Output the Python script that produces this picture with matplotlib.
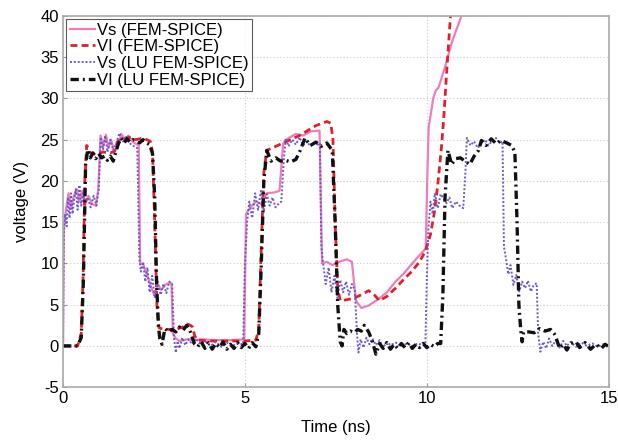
## Transient voltages, FEM-SPICE vs LU FEM-SPICE
import matplotlib as mpl
mpl.use('Agg')
import matplotlib.pyplot as plt

# Vs (FEM-SPICE), pink solid
vs_fem_t = [0, 0.02, 0.08, 0.15, 0.22, 0.3, 0.38, 0.45, 0.52, 0.6, 0.7, 0.8, 0.9, 0.97,
            1.03, 1.1, 1.18, 1.25, 1.32, 1.4, 1.5, 1.6, 1.7, 1.8, 1.9, 2.0, 2.08, 2.12,
            2.2, 2.3, 2.4, 2.5, 2.6, 2.7, 2.8, 2.9, 2.98, 3.02, 3.1, 3.2, 3.4, 3.6, 3.8,
            4.2, 4.6, 4.98, 5.03, 5.15, 5.3, 5.45, 5.6, 5.8, 5.95, 6.05, 6.2, 6.4, 6.6,
            6.8, 7.05, 7.12, 7.25, 7.4, 7.6, 7.8, 7.94, 8.05, 8.2, 8.4, 8.68, 8.9, 9.14,
            9.35, 9.58, 9.8, 9.97, 10.01, 10.05, 10.18, 10.25, 10.32, 10.5, 10.68, 10.95]
vs_fem_v = [0, 14.3, 16.5, 18.5, 16.8, 18.2, 19, 17.5, 18.8, 17, 18.2, 17.2, 17, 19,
            25.5, 24.2, 25.6, 24, 25, 23.7, 24, 25.7, 25, 25.5, 24.8, 24.5, 24.3, 10,
            9.9, 8.7, 7.4, 6.2, 7.4, 6.8, 7.4, 7.6, 7.6, 1.5, 0.9, 0.6, 0.8, 0.7, 0.8,
            0.7, 0.7, 0.8, 16, 16.8, 17.5, 17.2, 18.5, 18.6, 18.8, 24.5, 25.2, 25.7, 25.5,
            26, 26.1, 10, 10.2, 9.8, 10.2, 10.5, 10.2, 5.5, 4.6, 4.9, 5.7, 6.5, 7.8,
            8.7, 9.9, 11, 11.8, 20, 26.5, 30.1, 31, 31.3, 33.8, 36.7, 40]

# VI (FEM-SPICE), red dashed
vi_fem_t = [0, 0.4, 0.5, 0.55, 0.6, 0.65, 0.75, 0.9, 1.1, 1.3, 1.42, 1.5, 1.6, 1.8, 2.0,
            2.2, 2.4, 2.46, 2.52, 2.58, 2.64, 2.7, 2.9, 3.1, 3.3, 3.4, 3.5, 3.56, 3.62,
            3.7, 4.0, 4.5, 5.0, 5.3, 5.38, 5.45, 5.52, 5.6, 5.8, 6.0, 6.5, 6.95, 7.25,
            7.36, 7.42, 7.48, 7.55, 7.62, 7.8, 8.0, 8.2, 8.4, 8.55, 8.7, 8.9, 9.14, 9.35,
            9.58, 9.8, 9.96, 10.1, 10.2, 10.3, 10.4, 10.46, 10.55, 10.65]
vi_fem_v = [0, 0, 1.5, 8, 20, 24.3, 23.4, 23.2, 23.5, 23.4, 23.6, 24.8, 25, 25.3, 25,
            25.2, 24.8, 23.5, 15, 5, 2.2, 2.1, 2, 2, 2.3, 2.7, 2.5, 2.3, 1.2,
            0.7, 0.6, 0.6, 0.6, 0.7, 2, 12, 21, 23.7, 24.1, 24.5, 25.5, 26.7, 27.2,
            27, 25, 15, 7, 5.5, 5.6, 5.8, 6.2, 6.7, 6.2, 5.5, 6, 7, 8,
            9, 10.2, 11.5, 13.5, 16, 19.5, 24, 27.3, 33.5, 40]

# Vs (LU FEM-SPICE), blue-violet dotted
vs_lu_t = [0, 0.02, 0.06, 0.1, 0.14, 0.18, 0.22, 0.26, 0.3, 0.35, 0.4, 0.45, 0.5, 0.55,
           0.6, 0.68, 0.76, 0.84, 0.92, 0.98, 1.04, 1.1, 1.16, 1.22, 1.3, 1.38, 1.46,
           1.55, 1.65, 1.75, 1.85, 1.95, 2.04, 2.1, 2.14, 2.2, 2.26, 2.32, 2.38, 2.45,
           2.52, 2.6, 2.68, 2.76, 2.84, 2.92, 3.0, 3.05, 3.1, 3.15, 3.2, 3.28, 3.36,
           3.45, 3.55, 3.65, 3.75, 3.9, 4.05, 4.2, 4.35, 4.5, 4.65, 4.8, 4.95, 5.0,
           5.06, 5.12, 5.2, 5.28, 5.36, 5.44, 5.52, 5.6, 5.68, 5.76, 5.84, 5.92, 6.0,
           6.06, 6.12, 6.2, 6.3, 6.4, 6.5, 6.6, 6.7, 6.8, 6.9, 7.0, 7.06, 7.1, 7.15,
           7.22, 7.3, 7.38, 7.46, 7.54, 7.62, 7.7, 7.78, 7.86, 7.94, 8.02, 8.08, 8.12,
           8.18, 8.26, 8.34, 8.42, 8.5, 8.6, 8.7, 8.8, 8.9, 9.0, 9.15, 9.3, 9.45, 9.6,
           9.75, 9.9, 9.96, 10.0, 10.04, 10.1, 10.16, 10.22, 10.3, 10.38, 10.46, 10.54,
           10.62, 10.7, 10.8, 10.9, 11.0, 11.06, 11.1, 11.2, 11.3, 11.4, 11.5, 11.6,
           11.7, 11.8, 11.9, 12.0, 12.08, 12.12, 12.18, 12.24, 12.3, 12.38, 12.46,
           12.54, 12.62, 12.7, 12.78, 12.86, 12.94, 13.02, 13.06, 13.12, 13.2, 13.28,
           13.36, 13.45, 13.55, 13.65, 13.75, 13.85, 13.95, 14.1, 14.25, 14.4, 14.55,
           14.7, 14.85, 15.0]
vs_lu_v = [0, 13.5, 16, 14.5, 18, 15.5, 18.5, 16, 17.5, 19, 16.5, 19.5, 17, 18.5,
           17.5, 18, 16.8, 18.2, 17, 19, 25.3, 23.8, 25.5, 23.5, 25, 23.7, 24.5,
           25.8, 24.8, 25.5, 24.5, 24.2, 24, 10.5, 9, 10.2, 7.8, 9.5, 6.5, 8.5,
           5.8, 7.8, 6.2, 7.5, 6.4, 7.8, 7.5, 1.0, -0.8, 0.6, -0.3, 1.0, 0.1,
           0.8, 0.2, 0.9, 0.3, 0.6, 0.0, 0.5, -0.1, 0.4, 0.0, 0.3, 0.2, 10,
           15, 17.5, 15.5, 18.5, 16.5, 18.8, 16.3, 18.4, 17, 18, 16.8, 17.2, 17.5,
           22, 25.2, 24.2, 25, 24.4, 25.3, 24.3, 24.8, 24.2, 24.6, 24.4, 24.6, 12, 10,
           7.5, 9.5, 6.5, 8.5, 5.8, 8, 6.5, 7.8, 6.2, 7.5, 6.8, 1.5, -0.8,
           0.8, -0.2, 1.0, 0.2, 0.9, 0.1, 0.7, -0.2, 0.5, 0.1, 0.4, -0.1, 0.3, 0.0,
           0.3, 0.1, 0.2, 8, 14, 17.5, 16, 18.5, 16.7, 18.4, 17.9, 17.3,
           18, 16.7, 17.5, 17, 16.7, 21, 25.2, 24.3, 24.8, 24, 24.5, 25,
           24.3, 24.9, 25.2, 24.6, 24.8, 12, 10.5, 8.7, 9.8, 7.4, 8.6,
           6.6, 7.8, 7, 7.9, 6.6, 7.4, 7.6, 1.5, -0.7, 0.5, -0.3,
           0.9, 0.0, 0.7, -0.2, 0.6, 0.0, 0.5, -0.1, 0.4, 0.0, 0.3,
           -0.1, 0.2, 0.0]

# VI (LU FEM-SPICE), black dash-dot
vi_lu_t = [0, 0.4, 0.5, 0.56, 0.62, 0.68, 0.75, 0.82, 0.9, 0.98, 1.06, 1.14, 1.22, 1.3,
           1.38, 1.45, 1.52, 1.6, 1.68, 1.76, 1.84, 1.92, 2.0, 2.1, 2.2, 2.3, 2.38, 2.46,
           2.52, 2.57, 2.62, 2.66, 2.72, 2.8, 2.9, 3.0, 3.1, 3.2, 3.3, 3.4, 3.5, 3.56,
           3.62, 3.7, 3.8, 3.9, 4.0, 4.1, 4.2, 4.3, 4.4, 4.5, 4.6, 4.7, 4.8, 4.9, 5.0,
           5.1, 5.2, 5.3, 5.38, 5.45, 5.52, 5.6, 5.72, 5.85, 5.98, 6.12, 6.25, 6.4,
           6.52, 6.65, 6.8, 6.95, 7.1, 7.25, 7.4, 7.48, 7.55, 7.62, 7.67, 7.72, 7.8,
           7.9, 8.0, 8.1, 8.2, 8.28, 8.4, 8.5, 8.6, 8.7, 8.8, 8.9, 9.0, 9.1, 9.2, 9.3,
           9.4, 9.5, 9.6, 9.7, 9.8, 9.9, 10.0, 10.1, 10.2, 10.3, 10.38, 10.44, 10.5,
           10.58, 10.68, 10.8, 10.92, 11.05, 11.18, 11.3, 11.42, 11.5, 11.63, 11.77,
           11.91, 12.04, 12.2, 12.33, 12.42, 12.48, 12.53, 12.58, 12.62, 12.66, 12.8,
           12.95, 13.1, 13.25, 13.4, 13.5, 13.56, 13.65, 13.75, 13.85, 13.95, 14.1,
           14.2, 14.35, 14.5, 14.65, 14.8, 14.9, 15.0]
vi_lu_v = [0, 0, 1.0, 8, 22, 23.8, 22.8, 23.4, 22.7, 23.3, 22.8, 23.0, 22.5, 23.0,
           22.4, 23.5, 24.5, 25.2, 24.6, 25.1, 24.7, 25.0, 24.9, 24.6, 25.0, 24.6, 24.4, 23.3,
           18, 8, 2.5, 0.9, 0.2, 2.1, 1.7, 2.0, 1.7, 2.3, 1.9, 2.5, 1.7, 0.9,
           0.2, -0.1, 0.5, -0.3, 0.4, -0.4, 0.3, -0.2, 0.5, -0.4, 0.2, -0.3, 0.4, -0.2, 0.3,
           -0.3, 0.4, -0.1, 1.5, 10, 20, 23.7, 22.4, 22.8, 22.4, 22.5, 22.3, 22.6,
           23.7, 25.2, 24.3, 24.7, 24.2, 24.6, 23.7, 15, 5, 0.5, 0.0, 2.0, 1.5,
           1.8, 1.6, 2.0, 1.8, 2.5, 1.7, 0.6, -1.0, 0.3, -0.3, 0.4, -0.4, 0.2, -0.3, 0.3,
           -0.2, 0.4, -0.3, 0.2, -0.2, 0.3, -0.2, 0.2, -0.1, 0.3, 0.3, 6, 18,
           23.7, 22.0, 22.7, 22.8, 22.4, 22.0, 23.0, 23.7, 24.9, 24.3, 25.1,
           24.5, 24.9, 24.6, 24.3, 23.5, 15, 5, 2.0, 0.5, 1.7, 1.7,
           1.6, 2.1, 1.8, 2.0, 1.5, 0.9, -0.3, 0.2, -0.5, 0.3, 0.5,
           -0.2, 0.4, -0.4, 0.2, -0.3, 0.2, -0.1]

x_ticks = [0, 5, 10, 15]
y_ticks = [-5, 0, 5, 10, 15, 20, 25, 30, 35, 40]

plt.rcParams['font.family'] = ['Liberation Sans', 'DejaVu Sans']
plt.rcParams['axes.unicode_minus'] = False

fig = plt.figure(figsize=(6.18, 4.42), dpi=100)
ax = fig.add_axes([0.102, 0.124, 0.883, 0.840])

ax.plot(vs_fem_t, vs_fem_v, color='#f07cbc', lw=1.6, label='Vs (FEM-SPICE)')
ax.plot(vi_fem_t, vi_fem_v, color='#e0202a', lw=2.0, ls=(0, (2.5, 1.5)), label='VI (FEM-SPICE)')
ax.plot(vs_lu_t, vs_lu_v, color='#6a5acd', lw=1.4, ls=(0, (1, 1)), label='Vs (LU FEM-SPICE)')
ax.plot(vi_lu_t, vi_lu_v, color='#111111', lw=2.4, ls=(0, (2.5, 1.2, 0.6, 1.2)), label='VI (LU FEM-SPICE)')

ax.set_xlim(0, 15)
ax.set_ylim(-5, 40)
ax.set_xticks(x_ticks)
ax.set_yticks(y_ticks)
ax.tick_params(direction='in', length=3, labelsize=12, color='#999999', pad=3)
ax.grid(True, ls=(0, (1, 2)), color='#cccccc', lw=0.8)
for s in ax.spines.values():
    s.set_color('#aaaaaa')
    s.set_linewidth(1.2)

ax.set_xlabel('Time (ns)', fontsize=12, labelpad=10)
ax.set_ylabel('voltage (V)', fontsize=12, labelpad=8)

leg = ax.legend(loc='upper left', fontsize=12, handlelength=1.5, handletextpad=0.15,
                labelspacing=0.1, borderpad=0.2, borderaxespad=0.2, fancybox=False)
leg.get_frame().set_edgecolor('#333333')
leg.get_frame().set_linewidth(0.8)

plt.savefig('out.png', dpi=100)
